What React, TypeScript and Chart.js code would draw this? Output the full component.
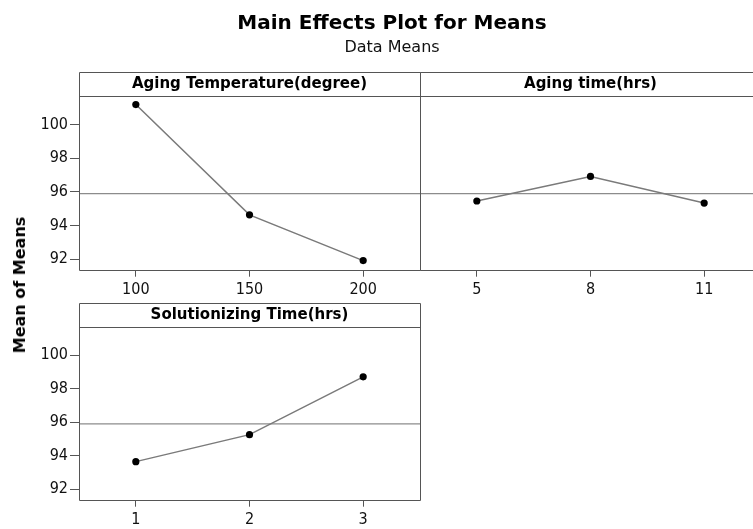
import React, { useEffect, useRef } from 'react';
import { Chart, registerables } from 'chart.js';

Chart.register(...registerables);

// ---------- data ----------
const tempLevels = ['100', '150', '200'];
const tempMeans = [101.19, 94.64, 91.92];
const agingLevels = ['5', '8', '11'];
const agingMeans = [95.46, 96.92, 95.34];
const solLevels = ['1', '2', '3'];
const solMeans = [93.65, 95.26, 98.71];
const grandMean = 95.9;
const yTickValues = [92, 94, 96, 98, 100];
const yRange = [91.32, 101.7];
const mainTitle = 'Main Effects Plot for Means';
const subTitle = 'Data Means';
const yAxisTitle = 'Mean of Means';
const panelTitles = ['Aging Temperature(degree)', 'Aging time(hrs)', 'Solutionizing Time(hrs)'];

// ---------- layout / style ----------
const FONT = "'DejaVu Sans', Verdana, sans-serif";
const TICK_FONT = "'DejaVu Sans Condensed', 'DejaVu Sans', sans-serif";
const PAGE_W = 753;
const PAGE_H = 529;
const STRIP_PAD = 3; // title strip = 18 line + 3 + 3 = 24px
const Y_AXIS_W = 40;
const X_AXIS_H = 28;
const FRAME = '#555555';

const framePlugin = {
  id: 'panelFrame',
  afterDraw(chart: any) {
    const { ctx, chartArea: a } = chart;
    const strip = 15 * 1.2 + STRIP_PAD * 2;
    const l = Math.round(a.left) + 0.5;
    const r = Math.round(a.right) + 0.5;
    const t = Math.round(a.top) + 0.5;
    const b = Math.round(a.bottom) - 0.5;
    ctx.save();
    ctx.strokeStyle = FRAME;
    ctx.lineWidth = 1;
    ctx.beginPath();
    ctx.rect(l, t - strip, r - l, b - t + strip);
    ctx.moveTo(l, t);
    ctx.lineTo(r, t);
    ctx.stroke();
    ctx.restore();
  },
};

type PanelProps = {
  title: string;
  levels: string[];
  means: number[];
  showY: boolean;
  canvasW: number;
  area: { left: number; right: number; top: number; bottom: number };
};

function Panel({ title, levels, means, showY, canvasW, area }: PanelProps) {
  const ref = useRef<HTMLCanvasElement | null>(null);
  useEffect(() => {
    if (!ref.current) return;
    const strip = 15 * 1.2 + STRIP_PAD * 2;
    const chart = new Chart(ref.current, {
      type: 'line',
      data: {
        datasets: [
          {
            data: means.map((m, i) => ({ x: i, y: m })),
            borderColor: '#7a7a7a',
            borderWidth: 1.5,
            pointRadius: 3.6,
            pointHoverRadius: 3.6,
            pointBackgroundColor: '#000',
            pointBorderColor: '#000',
            pointBorderWidth: 0,
            tension: 0,
          },
          {
            data: [
              { x: -0.5, y: grandMean },
              { x: levels.length - 0.5, y: grandMean },
            ],
            borderColor: '#8c8c8c',
            borderWidth: 1.2,
            pointRadius: 0,
            pointHoverRadius: 0,
          },
        ],
      },
      options: {
        responsive: false,
        animation: false,
        events: [],
        layout: {
          padding: {
            left: showY ? area.left - Y_AXIS_W : area.left,
            right: canvasW - area.right,
            top: area.top - strip,
            bottom: PAGE_H - area.bottom - X_AXIS_H,
          },
        },
        plugins: {
          legend: { display: false },
          tooltip: { enabled: false },
          title: {
            display: true,
            text: title,
            color: '#000',
            fullSize: false,
            font: { family: FONT, size: 15, weight: 'bold', lineHeight: 1.2 },
            padding: { top: STRIP_PAD, bottom: STRIP_PAD },
          },
        },
        scales: {
          x: {
            type: 'linear',
            min: -0.5,
            max: levels.length - 0.5,
            afterBuildTicks: (s: any) => {
              s.ticks = levels.map((_, i) => ({ value: i }));
            },
            afterFit: (s: any) => {
              s.height = X_AXIS_H;
            },
            ticks: {
              callback: (_v: any, i: number) => levels[i],
              font: { family: TICK_FONT, size: 16 },
              color: '#111',
              padding: 4,
              maxRotation: 0,
              autoSkip: false,
            },
            grid: { drawOnChartArea: false, drawTicks: true, tickLength: 6, color: FRAME },
            border: { display: false },
          },
          y: {
            display: showY,
            min: yRange[0],
            max: yRange[1],
            afterBuildTicks: (s: any) => {
              s.ticks = yTickValues.map((v) => ({ value: v }));
            },
            afterFit: (s: any) => {
              s.width = showY ? Y_AXIS_W : 0;
            },
            ticks: {
              font: { family: TICK_FONT, size: 16 },
              color: '#111',
              padding: 2,
            },
            grid: { drawOnChartArea: false, drawTicks: true, tickLength: 9, color: FRAME },
            border: { display: false },
          },
        },
      } as any,
      plugins: [framePlugin],
    });
    return () => chart.destroy();
  }, [title, levels, means, showY, canvasW, area]);

  return (
    <canvas
      ref={ref}
      width={canvasW}
      height={PAGE_H}
      style={{ position: 'absolute', left: 0, top: 0, width: canvasW, height: PAGE_H }}
    />
  );
}

const area1 = { left: 79, right: 420, top: 96, bottom: 270.7 };
const area2 = { left: 420, right: 761, top: 96, bottom: 270.7 };
const area3 = { left: 79, right: 420, top: 326.7, bottom: 500.7 };

export default function App() {
  return (
    <div
      style={{
        position: 'fixed',
        left: 0,
        top: 0,
        width: PAGE_W,
        height: PAGE_H,
        overflow: 'hidden',
        background: '#fff',
        fontFamily: FONT,
      }}
    >
      <Panel title={panelTitles[0]} levels={tempLevels} means={tempMeans} showY={true} canvasW={PAGE_W} area={area1} />
      <Panel title={panelTitles[1]} levels={agingLevels} means={agingMeans} showY={false} canvasW={800} area={area2} />
      <Panel title={panelTitles[2]} levels={solLevels} means={solMeans} showY={true} canvasW={PAGE_W} area={area3} />
      <div
        style={{
          position: 'absolute',
          left: 0,
          width: 784,
          top: 12,
          textAlign: 'center',
          fontSize: 20,
          lineHeight: '20px',
          fontWeight: 'bold',
          color: '#000',
          whiteSpace: 'nowrap',
        }}
      >
        {mainTitle}
      </div>
      <div
        style={{
          position: 'absolute',
          left: 0,
          width: 784,
          top: 38.5,
          textAlign: 'center',
          fontSize: 16,
          lineHeight: '16px',
          color: '#111',
          whiteSpace: 'nowrap',
        }}
      >
        {subTitle}
      </div>
      <div
        style={{
          position: 'absolute',
          left: 19.5,
          top: 285,
          transform: 'translate(-50%, -50%) rotate(-90deg)',
          fontSize: 16,
          lineHeight: '16px',
          fontWeight: 'bold',
          color: '#000',
          whiteSpace: 'nowrap',
        }}
      >
        {yAxisTitle}
      </div>
    </div>
  );
}
